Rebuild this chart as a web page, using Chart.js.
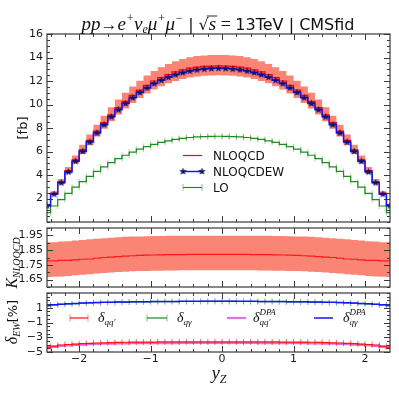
<!DOCTYPE html>
<html>
<head>
<meta charset="utf-8">
<script src="https://cdn.jsdelivr.net/npm/chart.js@4.4.0/dist/chart.umd.min.js"></script>
<style>
html, body { margin: 0; padding: 0; background: #fff; }
#wrap { position: relative; width: 399px; height: 399px; overflow: hidden; }
canvas { position: absolute; left: 0; top: 0; }
</style>
</head>
<body>
<div id="wrap">
  <canvas id="mainChart" width="399" height="399"></canvas>
  <canvas id="kChart" width="399" height="399"></canvas>
  <canvas id="ewChart" width="399" height="399"></canvas>
</div>
<script>
// bin centres in y_Z
var yzCentres = [-2.45, -2.35, -2.25, -2.15, -2.05, -1.95, -1.85, -1.75, -1.65, -1.55, -1.45, -1.35, -1.25, -1.15, -1.05, -0.95, -0.85, -0.75, -0.65, -0.55, -0.45, -0.35, -0.25, -0.15, -0.05,
                 0.05, 0.15, 0.25, 0.35, 0.45, 0.55, 0.65, 0.75, 0.85, 0.95, 1.05, 1.15, 1.25, 1.35, 1.45, 1.55, 1.65, 1.75, 1.85, 1.95, 2.05, 2.15, 2.25, 2.35];

// cross sections [fb]
var nloqcd = [1.42, 2.44, 3.42, 4.37, 5.30, 6.15, 6.95, 7.73, 8.45, 9.12, 9.73, 10.27, 10.77, 11.23, 11.63, 12.00, 12.29, 12.55, 12.78, 12.95, 13.09, 13.18, 13.24, 13.27, 13.28,
              13.27, 13.24, 13.18, 13.09, 12.95, 12.78, 12.55, 12.29, 12.00, 11.63, 11.23, 10.77, 10.27, 9.73, 9.12, 8.45, 7.73, 6.95, 6.15, 5.30, 4.37, 3.42, 2.44, 1.42];
var nloqcdHi = [1.52, 2.61, 3.66, 4.68, 5.67, 6.58, 7.44, 8.28, 9.05, 9.77, 10.42, 11.00, 11.54, 12.03, 12.46, 12.85, 13.17, 13.44, 13.69, 13.87, 14.02, 14.12, 14.18, 14.21, 14.22,
                14.21, 14.18, 14.12, 14.02, 13.87, 13.69, 13.44, 13.17, 12.85, 12.46, 12.03, 11.54, 11.00, 10.42, 9.77, 9.05, 8.28, 7.44, 6.58, 5.67, 4.68, 3.66, 2.61, 1.52];
var nloqcdLo = [1.33, 2.29, 3.22, 4.11, 4.98, 5.78, 6.53, 7.27, 7.94, 8.57, 9.15, 9.65, 10.12, 10.56, 10.93, 11.28, 11.55, 11.80, 12.01, 12.17, 12.30, 12.39, 12.45, 12.47, 12.48,
                12.47, 12.45, 12.39, 12.30, 12.17, 12.01, 11.80, 11.55, 11.28, 10.93, 10.56, 10.12, 9.65, 9.15, 8.57, 7.94, 7.27, 6.53, 5.78, 4.98, 4.11, 3.22, 2.29, 1.33];
var nloqcdEW = [1.38, 2.37, 3.33, 4.26, 5.17, 6.01, 6.80, 7.57, 8.28, 8.95, 9.55, 10.08, 10.57, 11.02, 11.41, 11.78, 12.06, 12.32, 12.54, 12.71, 12.85, 12.95, 13.02, 13.06, 13.08,
                13.06, 13.02, 12.95, 12.85, 12.71, 12.54, 12.32, 12.06, 11.78, 11.41, 11.02, 10.57, 10.08, 9.55, 8.95, 8.28, 7.57, 6.80, 6.01, 5.17, 4.26, 3.33, 2.37, 1.38];
var lo = [0.79, 1.36, 1.91, 2.44, 2.96, 3.43, 3.88, 4.31, 4.69, 5.06, 5.39, 5.68, 5.95, 6.20, 6.41, 6.61, 6.77, 6.91, 7.03, 7.12, 7.19, 7.24, 7.27, 7.29, 7.30,
          7.29, 7.27, 7.24, 7.19, 7.12, 7.03, 6.91, 6.77, 6.61, 6.41, 6.20, 5.95, 5.68, 5.39, 5.06, 4.69, 4.31, 3.88, 3.43, 2.96, 2.44, 1.91, 1.36, 0.79];

// K factor NLOQCD / LO
var kFactor = [1.777, 1.777, 1.780, 1.781, 1.784, 1.788, 1.790, 1.795, 1.800, 1.803, 1.806, 1.810, 1.812, 1.814, 1.816, 1.817, 1.818, 1.819, 1.820, 1.820, 1.821, 1.821, 1.821, 1.821, 1.821,
               1.821, 1.821, 1.821, 1.821, 1.820, 1.820, 1.819, 1.818, 1.817, 1.816, 1.814, 1.812, 1.810, 1.806, 1.803, 1.800, 1.795, 1.790, 1.788, 1.784, 1.781, 1.780, 1.777, 1.777];
var kHi = [1.903, 1.904, 1.908, 1.911, 1.915, 1.919, 1.923, 1.927, 1.931, 1.934, 1.937, 1.940, 1.942, 1.943, 1.944, 1.945, 1.946, 1.947, 1.947, 1.948, 1.948, 1.948, 1.948, 1.948, 1.948,
           1.948, 1.948, 1.948, 1.948, 1.948, 1.947, 1.947, 1.946, 1.945, 1.944, 1.943, 1.942, 1.940, 1.937, 1.934, 1.931, 1.927, 1.923, 1.919, 1.915, 1.911, 1.908, 1.904, 1.903];
var kLo = [1.668, 1.669, 1.672, 1.675, 1.679, 1.683, 1.687, 1.691, 1.695, 1.698, 1.701, 1.704, 1.706, 1.708, 1.709, 1.710, 1.711, 1.712, 1.712, 1.713, 1.713, 1.713, 1.713, 1.713, 1.713,
           1.713, 1.713, 1.713, 1.713, 1.713, 1.712, 1.712, 1.711, 1.710, 1.709, 1.708, 1.706, 1.704, 1.701, 1.698, 1.695, 1.691, 1.687, 1.683, 1.679, 1.675, 1.672, 1.669, 1.668];

// EW corrections [%]
var dQQ = [-4.35, -4.20, -4.05, -3.98, -3.92, -3.87, -3.82, -3.78, -3.75, -3.72, -3.70, -3.68, -3.67, -3.66, -3.65, -3.65, -3.64, -3.64, -3.64, -3.63, -3.63, -3.63, -3.63, -3.63, -3.63,
           -3.63, -3.63, -3.63, -3.63, -3.63, -3.64, -3.64, -3.64, -3.65, -3.65, -3.66, -3.67, -3.68, -3.70, -3.72, -3.75, -3.78, -3.82, -3.87, -3.92, -3.98, -4.05, -4.20, -4.35];
var dQQdpa = [-4.45, -4.30, -4.17, -4.10, -4.04, -3.99, -3.95, -3.91, -3.88, -3.86, -3.84, -3.82, -3.81, -3.80, -3.80, -3.79, -3.79, -3.79, -3.79, -3.78, -3.78, -3.78, -3.78, -3.78, -3.78,
              -3.78, -3.78, -3.78, -3.78, -3.78, -3.79, -3.79, -3.79, -3.79, -3.80, -3.80, -3.81, -3.82, -3.84, -3.86, -3.88, -3.91, -3.95, -3.99, -4.04, -4.10, -4.17, -4.30, -4.45];
var dQA = [1.30, 1.38, 1.45, 1.51, 1.56, 1.61, 1.65, 1.68, 1.71, 1.73, 1.75, 1.77, 1.79, 1.80, 1.81, 1.82, 1.83, 1.84, 1.84, 1.85, 1.85, 1.85, 1.86, 1.86, 1.86,
           1.86, 1.86, 1.85, 1.85, 1.85, 1.84, 1.84, 1.83, 1.82, 1.81, 1.80, 1.79, 1.77, 1.75, 1.73, 1.71, 1.68, 1.65, 1.61, 1.56, 1.51, 1.45, 1.38, 1.30];
var dQAdpa = [1.32, 1.40, 1.47, 1.53, 1.58, 1.63, 1.67, 1.70, 1.73, 1.75, 1.77, 1.79, 1.81, 1.82, 1.83, 1.84, 1.85, 1.86, 1.86, 1.87, 1.87, 1.87, 1.88, 1.88, 1.88,
              1.88, 1.88, 1.87, 1.87, 1.87, 1.86, 1.86, 1.85, 1.84, 1.83, 1.82, 1.81, 1.79, 1.77, 1.75, 1.73, 1.70, 1.67, 1.63, 1.58, 1.53, 1.47, 1.40, 1.32];

// tick labels
var xTicks = [-2, -1, 0, 1, 2];
var topYTicks = [2, 4, 6, 8, 10, 12, 14, 16];
var kTicks = [1.65, 1.75, 1.85, 1.95];
var ewTicks = [-5, -3, -1, 1];

var SANS = '"DejaVu Sans", sans-serif';
var MATH = '"Liberation Serif", serif';
var SALMON = "#fa8574";

function pts(ys) {
    return yzCentres.map(function (x, i) { return { x: x, y: ys[i] }; });
}
var halfBin = (yzCentres[1] - yzCentres[0]) / 2;
function caps(ys) {
    var out = [];
    yzCentres.forEach(function (x, i) {
        out.push({ x: x - halfBin, y: ys[i] });
        out.push({ x: x + halfBin, y: ys[i] });
    });
    return out;
}

function makeStar(r, fill, stroke) {
    var c = document.createElement("canvas");
    var s = Math.ceil(r * 2 + 2);
    c.width = s; c.height = s;
    var g = c.getContext("2d");
    g.beginPath();
    for (var i = 0; i < 10; i++) {
        var a = -Math.PI / 2 + i * Math.PI / 5;
        var rr = i % 2 ? r * 0.42 : r;
        g.lineTo(s / 2 + rr * Math.cos(a), s / 2 + rr * Math.sin(a));
    }
    g.closePath();
    g.fillStyle = fill; g.fill();
    g.strokeStyle = stroke; g.lineWidth = 0.5; g.stroke();
    return c;
}
var starImg = makeStar(3.3, "#14147a", "#000040");

// draws mixed-font text; parts: {t, f, dy, stack, over}
function drawRich(ctx, parts, x, y, align) {
    var cur = 0, lastStart = 0, pos = [], widths = [];
    parts.forEach(function (p) {
        ctx.font = p.f;
        var w = ctx.measureText(p.t).width;
        widths.push(w);
        if (p.stack) { pos.push(lastStart); cur = Math.max(cur, lastStart + w); }
        else { pos.push(cur); lastStart = cur; cur += w; }
    });
    var x0 = align === "center" ? x - cur / 2 : x;
    ctx.textAlign = "left";
    parts.forEach(function (p, i) {
        ctx.font = p.f;
        ctx.fillText(p.t, x0 + pos[i], y + (p.dy || 0));
        if (p.over) {
            ctx.lineWidth = 0.9;
            ctx.beginPath();
            ctx.moveTo(x0 + pos[i] - 2, y - 14);
            ctx.lineTo(x0 + pos[i] + widths[i] + 1, y - 14);
            ctx.stroke();
        }
    });
}

function minorList(majors, step, min, max) {
    var out = [];
    var start = majors[0] - Math.floor((majors[0] - min) / step + 1e-6) * step;
    for (var v = start; v <= max + 1e-9; v += step) out.push(v);
    return out;
}

// frame with inward ticks on all four sides, plus tick labels
var frameTicks = {
    id: "frameTicks",
    afterDatasetsDraw: function (chart, args, o) {
        var ctx = chart.ctx, a = chart.chartArea;
        var x = chart.scales.x, y = chart.scales.y;
        ctx.save();
        ctx.strokeStyle = "#3a3a3a";
        ctx.lineWidth = 1;
        function seg(x1, y1, x2, y2) { ctx.beginPath(); ctx.moveTo(x1, y1); ctx.lineTo(x2, y2); ctx.stroke(); }
        minorList(xTicks, 0.2, x.min, x.max).forEach(function (v) {
            var p = Math.round(x.getPixelForValue(v)) + 0.5;
            seg(p, a.top, p, a.top + 3); seg(p, a.bottom, p, a.bottom - 3);
        });
        xTicks.forEach(function (v) {
            var p = Math.round(x.getPixelForValue(v)) + 0.5;
            seg(p, a.top, p, a.top + 6); seg(p, a.bottom, p, a.bottom - 6);
        });
        minorList(o.yMajor, o.yMinor, y.min, y.max).forEach(function (v) {
            var p = Math.round(y.getPixelForValue(v)) + 0.5;
            seg(a.left, p, a.left + 3, p); seg(a.right, p, a.right - 3, p);
        });
        o.yMajor.forEach(function (v) {
            var p = Math.round(y.getPixelForValue(v)) + 0.5;
            seg(a.left, p, a.left + 6, p); seg(a.right, p, a.right - 6, p);
        });
        ctx.lineWidth = 1.2;
        ctx.strokeRect(a.left, a.top, a.right - a.left, a.bottom - a.top);

        ctx.fillStyle = "#1a1a1a";
        ctx.font = "11px " + SANS;
        ctx.textAlign = "right";
        ctx.textBaseline = "middle";
        o.yMajor.forEach(function (v) {
            var s = o.yDigits ? v.toFixed(o.yDigits) : String(v);
            ctx.fillText(s.replace("-", "\u2212"), a.left - 4, y.getPixelForValue(v));
        });
        if (o.xLabels) {
            ctx.textAlign = "center";
            ctx.textBaseline = "top";
            xTicks.forEach(function (v) {
                ctx.fillText(String(v).replace("-", "\u2212"), x.getPixelForValue(v), a.bottom + 2);
            });
        }
        ctx.restore();
    },
    afterDraw: function (chart, args, o) {
        if (!o.extra) return;
        var ctx = chart.ctx;
        ctx.save();
        ctx.fillStyle = "#111";
        ctx.strokeStyle = "#111";
        ctx.textBaseline = "alphabetic";
        o.extra(ctx, chart);
        ctx.restore();
    }
};

// legend drawn inside the plot area
var insideLegend = {
    id: "insideLegend",
    afterDatasetsDraw: function (chart, args, o) {
        if (!o.items) return;
        var ctx = chart.ctx;
        ctx.save();
        o.items.forEach(function (it) {
            var ds = chart.data.datasets[it.ds];
            ctx.strokeStyle = ds.borderColor;
            ctx.lineWidth = ds.borderWidth;
            ctx.beginPath(); ctx.moveTo(it.x0, it.y); ctx.lineTo(it.x1, it.y); ctx.stroke();
            if (it.capColor) {
                ctx.strokeStyle = it.capColor; ctx.lineWidth = 1;
                [it.x0, it.x1].forEach(function (px) {
                    ctx.beginPath(); ctx.moveTo(px, it.y - 3.5); ctx.lineTo(px, it.y + 3.5); ctx.stroke();
                });
            }
            if (it.star) {
                [it.x0, it.x1].forEach(function (px) {
                    ctx.drawImage(starImg, px - starImg.width / 2, it.y - starImg.height / 2);
                });
            }
            ctx.fillStyle = "#111";
            ctx.textBaseline = it.rich ? "alphabetic" : "middle";
            if (it.rich) drawRich(ctx, it.rich, it.tx, it.y + 4, "left");
            else { ctx.font = "12px " + SANS; ctx.textAlign = "left"; ctx.fillText(ds.label, it.tx, it.y + 1); }
        });
        ctx.restore();
    }
};

var xScale = { type: "linear", min: -2.45, max: 2.35, offset: false, display: false };

// main panel
new Chart(document.getElementById("mainChart").getContext("2d"), {
    type: "line",
    data: {
        datasets: [
            { label: "NLOQCD", data: pts(nloqcd), stepped: "middle", borderColor: "#ff0000", borderWidth: 1.2, pointRadius: 0, order: 3, clip: 0 },
            { label: "NLOQCDEW", data: pts(nloqcdEW), stepped: "middle", borderColor: "#1515ff", borderWidth: 1.5, pointStyle: starImg, pointRadius: 3, order: 1, clip: 0 },
            { label: "LO", data: pts(lo), stepped: "middle", borderColor: "#1f8a1f", borderWidth: 1.2, pointRadius: 0, order: 5, clip: 0 },
            { label: "LO caps", data: caps(lo), showLine: false, pointStyle: "line", rotation: 90, pointRadius: 3, pointBorderColor: "rgba(0,140,0,0.35)", pointBorderWidth: 1, order: 6, clip: 0 },
            { label: "NLOQCD up", data: pts(nloqcdHi), stepped: "middle", borderWidth: 0, borderColor: "rgba(0,0,0,0)", pointRadius: 0, backgroundColor: SALMON, fill: "+1", order: 10, clip: 0 },
            { label: "NLOQCD down", data: pts(nloqcdLo), stepped: "middle", borderWidth: 0, borderColor: "rgba(0,0,0,0)", pointRadius: 0, fill: false, order: 11, clip: 0 }
        ]
    },
    options: {
        responsive: false,
        animation: false,
        layout: { padding: { left: 47, right: 9, top: 34, bottom: 177 } },
        scales: { x: xScale, y: { min: 0, max: 16, display: false } },
        plugins: {
            legend: { display: false },
            tooltip: { enabled: false },
            frameTicks: {
                yMajor: topYTicks, yMinor: 0.5, xLabels: false,
                extra: function (ctx) {
                    var M = "italic 19px " + MATH, Ms = "italic 12px " + MATH, S = "16px " + SANS;
                    drawRich(ctx, [
                        { t: "pp", f: M }, { t: "\u2192", f: "17px " + MATH },
                        { t: "e", f: M }, { t: "+", f: Ms, dy: -8 },
                        { t: "\u03bd", f: M }, { t: "e", f: Ms, dy: 3 },
                        { t: "\u03bc", f: M }, { t: "+", f: Ms, dy: -8 },
                        { t: "\u03bc", f: M }, { t: "\u2212", f: Ms, dy: -8 },
                        { t: " | ", f: S },
                        { t: "\u221a", f: "16px " + SANS }, { t: "s", f: M, over: true },
                        { t: " = ", f: "18px " + MATH },
                        { t: "13TeV | CMSfid", f: S }
                    ], 218, 30, "center");
                    ctx.save();
                    ctx.translate(22, 128);
                    ctx.rotate(-Math.PI / 2);
                    ctx.font = "13px " + SANS;
                    ctx.textAlign = "center";
                    ctx.fillText("[fb]", 0, 5);
                    ctx.restore();
                }
            },
            insideLegend: {
                items: [
                    { ds: 0, y: 155.5, x0: 183, x1: 202, tx: 213 },
                    { ds: 1, y: 171.5, x0: 183, x1: 202, tx: 213, star: true },
                    { ds: 2, y: 187.5, x0: 183, x1: 202, tx: 213, capColor: "rgba(0,140,0,0.45)" }
                ]
            }
        }
    },
    plugins: [frameTicks, insideLegend]
});

// K factor panel
new Chart(document.getElementById("kChart").getContext("2d"), {
    type: "line",
    data: {
        datasets: [
            { label: "K", data: pts(kFactor), stepped: "middle", borderColor: "#ff1a1a", borderWidth: 1.2, pointRadius: 0, order: 1, clip: 0 },
            { label: "K up", data: pts(kHi), stepped: "middle", borderWidth: 0, borderColor: "rgba(0,0,0,0)", pointRadius: 0, backgroundColor: SALMON, fill: "+1", order: 5, clip: 0 },
            { label: "K down", data: pts(kLo), stepped: "middle", borderWidth: 0, borderColor: "rgba(0,0,0,0)", pointRadius: 0, fill: false, order: 6, clip: 0 }
        ]
    },
    options: {
        responsive: false,
        animation: false,
        layout: { padding: { left: 47, right: 9, top: 228, bottom: 112 } },
        scales: { x: xScale, y: { min: 1.6, max: 2.0, display: false } },
        plugins: {
            legend: { display: false },
            tooltip: { enabled: false },
            frameTicks: {
                yMajor: kTicks, yMinor: 0.05, yDigits: 2, xLabels: false,
                extra: function (ctx) {
                    ctx.translate(13, 263);
                    ctx.rotate(-Math.PI / 2);
                    drawRich(ctx, [
                        { t: "K", f: "italic 16px " + MATH },
                        { t: "NLOQCD", f: "italic 10px " + MATH, dy: 3 }
                    ], 0, 4, "center");
                }
            }
        }
    },
    plugins: [frameTicks]
});

// EW corrections panel
new Chart(document.getElementById("ewChart").getContext("2d"), {
    type: "line",
    data: {
        datasets: [
            { label: "dqq", data: pts(dQQ), stepped: "middle", borderColor: "#ff1010", borderWidth: 1.2, pointRadius: 0, order: 5, clip: 0 },
            { label: "dqq caps", data: caps(dQQ), showLine: false, pointStyle: "line", rotation: 90, pointRadius: 3, pointBorderColor: "rgba(255,0,0,0.35)", pointBorderWidth: 1, order: 5, clip: 0 },
            { label: "dqa", data: pts(dQA), stepped: "middle", borderColor: "#1f8a1f", borderWidth: 1.2, pointRadius: 0, order: 3, clip: 0 },
            { label: "dqa caps", data: caps(dQA), showLine: false, pointStyle: "line", rotation: 90, pointRadius: 3, pointBorderColor: "rgba(0,140,0,0.35)", pointBorderWidth: 1, order: 3, clip: 0 },
            { label: "dqq dpa", data: pts(dQQdpa), stepped: "middle", borderColor: "rgba(190,0,200,0.55)", borderWidth: 2.2, pointRadius: 0, order: 7, clip: 0 },
            { label: "dqa dpa", data: pts(dQAdpa), stepped: "middle", borderColor: "#1515ff", borderWidth: 1.5, pointRadius: 0, order: 1, clip: 0 }
        ]
    },
    options: {
        responsive: false,
        animation: false,
        layout: { padding: { left: 47, right: 9, top: 293, bottom: 47 } },
        scales: { x: xScale, y: { min: -5, max: 3, display: false } },
        plugins: {
            legend: { display: false },
            tooltip: { enabled: false },
            frameTicks: {
                yMajor: ewTicks, yMinor: 0.5, xLabels: true,
                extra: function (ctx) {
                    drawRich(ctx, [
                        { t: "y", f: "italic 18px " + MATH },
                        { t: "Z", f: "italic 12px " + MATH, dy: 4 }
                    ], 219, 379, "center");
                    ctx.translate(13, 322);
                    ctx.rotate(-Math.PI / 2);
                    drawRich(ctx, [
                        { t: "\u03b4", f: "italic 16px " + MATH },
                        { t: "EW", f: "italic 10px " + MATH, dy: 3 },
                        { t: "[%]", f: "13px " + SANS }
                    ], 0, 4, "center");
                }
            },
            insideLegend: {
                items: [
                    { ds: 0, y: 318, x0: 70, x1: 88, tx: 98, capColor: "rgba(255,0,0,0.5)",
                      rich: [{ t: "\u03b4", f: "italic 14px " + MATH }, { t: "qq\u2032", f: "italic 9px " + MATH, dy: 3 }] },
                    { ds: 2, y: 318, x0: 147, x1: 167, tx: 177, capColor: "rgba(0,140,0,0.5)",
                      rich: [{ t: "\u03b4", f: "italic 14px " + MATH }, { t: "q\u03b3", f: "italic 9px " + MATH, dy: 3 }] },
                    { ds: 4, y: 318, x0: 227, x1: 246, tx: 253,
                      rich: [{ t: "\u03b4", f: "italic 14px " + MATH }, { t: "qq\u2032", f: "italic 9px " + MATH, dy: 3 }, { t: "DPA", f: "italic 9px " + MATH, dy: -7, stack: true }] },
                    { ds: 5, y: 318, x0: 314, x1: 333, tx: 343,
                      rich: [{ t: "\u03b4", f: "italic 14px " + MATH }, { t: "q\u03b3", f: "italic 9px " + MATH, dy: 3 }, { t: "DPA", f: "italic 9px " + MATH, dy: -7, stack: true }] }
                ]
            }
        }
    },
    plugins: [frameTicks, insideLegend]
});
</script>
</body>
</html>
